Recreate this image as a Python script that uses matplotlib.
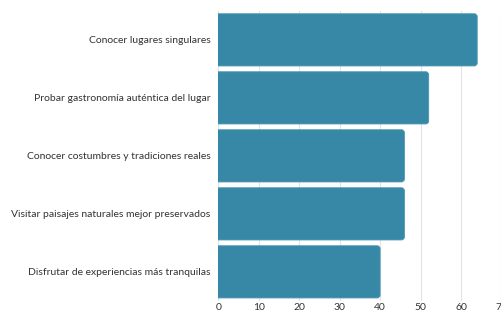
import matplotlib
matplotlib.use("Agg")
import matplotlib.pyplot as plt
from matplotlib.patches import FancyBboxPatch

# === Data ===
labels = [
    "Conocer lugares singulares",
    "Probar gastronomía auténtica del lugar",
    "Conocer costumbres y tradiciones reales",
    "Visitar paisajes naturales mejor preservados",
    "Disfrutar de experiencias más tranquilas",
]
values = [64, 52, 46, 46, 40]
xticks = [0, 10, 20, 30, 40, 50, 60, 70]

bar_color = "#3788a6"
plt.rcParams["font.family"] = ["Lato", "DejaVu Sans"]

# === Plot ===
fig = plt.figure(figsize=(5.02, 3.11), dpi=100)
ax = fig.add_axes([0.4349, 0.0326, 0.5641, 0.9325])

ypos = list(range(len(values)))
bars = ax.barh(ypos, values, height=0.9, color=bar_color)
ax.set_xlim(0, 70)
ax.set_ylim(len(values) - 0.5, -0.5)

# swap plain rectangles for rounded ones
r = 0.75
for b in bars:
    x, y = b.get_x(), b.get_y()
    w, h = b.get_width(), b.get_height()
    b.remove()
    p = FancyBboxPatch((x - 2, y), w + 2, h,
                       boxstyle=f"round,pad=0,rounding_size={r}",
                       mutation_aspect=0.0698,
                       facecolor=bar_color, edgecolor="#4a97b3", linewidth=0.6,
                       zorder=2)
    ax.add_patch(p)

ax.set_yticks(ypos)
ax.set_yticklabels(labels)
ax.set_xticks(xticks)
ax.tick_params(axis="both", length=0, labelsize=7.5, colors="#333333")
ax.tick_params(axis="y", pad=5.5)
ax.tick_params(axis="x", pad=1.5)

ax.grid(axis="x", color="#e3e3e3", linewidth=0.8)
ax.set_axisbelow(True)
for s in ax.spines.values():
    s.set_visible(False)

fig.savefig("out.png", dpi=100)
